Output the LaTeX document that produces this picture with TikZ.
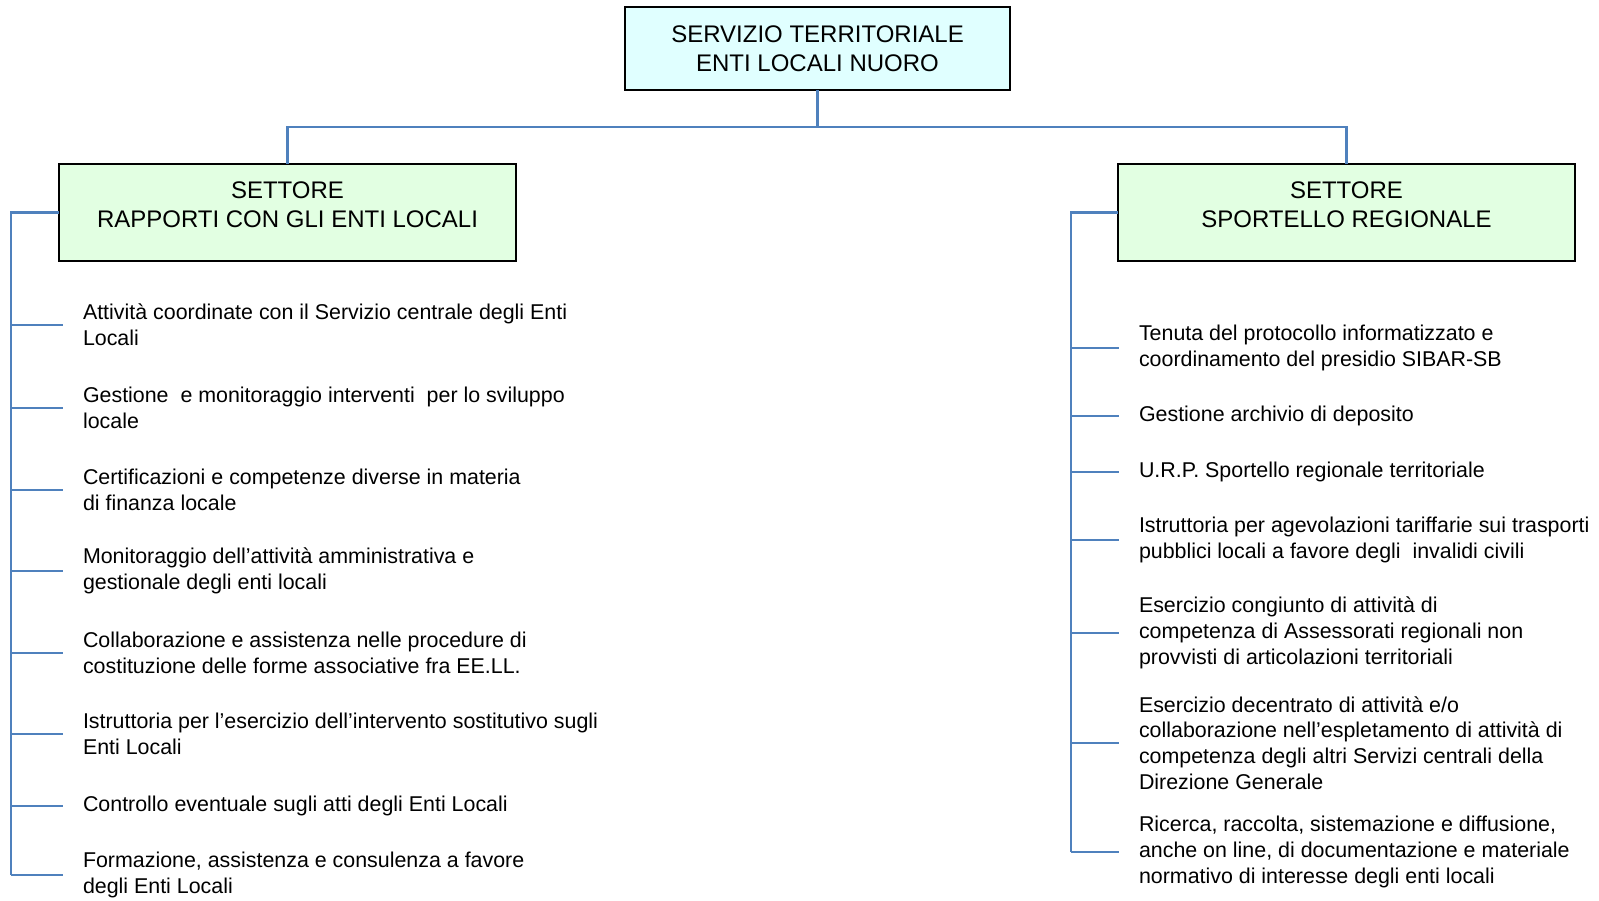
\documentclass[tikz,border=0pt]{standalone}
\usepackage{fontspec}
\setmainfont{Liberation Sans}
\definecolor{topfill}{RGB}{224,255,255}
\definecolor{setfill}{RGB}{226,255,226}
\definecolor{linkblue}{RGB}{79,129,189}
\begin{document}
\begin{tikzpicture}[x=50pt,y=50pt,inner sep=0pt,outer sep=0pt,
conn/.style={draw=linkblue,line width=1.4pt},
headbox/.style={draw,rectangle,line width=1.1pt,align=center,font=\fontsize{12}{14.25}\selectfont},
item/.style={anchor=west,align=left,inner xsep=10pt,font=\fontsize{10.7}{12.9}\selectfont}]
\useasboundingbox (0,0) rectangle (15.99,-9.00);
\draw (8.175,-0.485) node[headbox,fill=topfill,minimum width=192.5pt,minimum height=41.5pt] (serv) {SERVIZIO TERRITORIALE\\ENTI LOCALI NUORO};
\draw (2.875,-2.125) node[headbox,fill=setfill,minimum width=228.5pt,minimum height=48.5pt,
  label={[yshift=4pt,align=center,font=\fontsize{12}{14.25}\selectfont]center:SETTORE\\RAPPORTI CON GLI ENTI LOCALI}] (setL) {};
\draw (13.465,-2.125) node[headbox,fill=setfill,minimum width=228.5pt,minimum height=48.5pt,
  label={[yshift=4pt,align=center,font=\fontsize{12}{14.25}\selectfont]center:SETTORE\\SPORTELLO REGIONALE}] (setR) {};
\coordinate (bus) at (8.175,-1.27);
\draw[conn] (serv.south) -- (bus) -| (setL.north);
\draw[conn] (bus) -| (setR.north);

% settore rapporti
\coordinate (spineL) at (0.11,0);
\draw (0.63,-3.25) node[item] (itL1) {Attività coordinate con il Servizio centrale degli Enti\\Locali};
\draw (0.63,-4.08) node[item] (itL2) {Gestione\ \ e monitoraggio interventi\ \ per lo sviluppo\\locale};
\draw (0.63,-4.90) node[item] (itL3) {Certificazioni e competenze diverse in materia\\di finanza locale};
\draw (0.63,-5.71) node[item] (itL4) {Monitoraggio dell’attività amministrativa e\\gestionale degli enti locali};
\draw (0.63,-6.53) node[item] (itL5) {Collaborazione e assistenza nelle procedure di\\costituzione delle forme associative fra EE.LL.};
\draw (0.63,-7.34) node[item] (itL6) {Istruttoria per l’esercizio dell’intervento sostitutivo sugli\\Enti Locali};
\draw (0.63,-8.06) node[item] (itL7) {Controllo eventuale sugli atti degli Enti Locali};
\draw (0.63,-8.75) node[item] (itL8) {Formazione, assistenza e consulenza a favore\\degli Enti Locali};
\draw[conn] (setL.west) -| (spineL |- itL8.west);
\foreach \i in {1,...,8}
  \draw[conn] (spineL |- itL\i.west) -- (itL\i.west);

% settore sportello
\coordinate (spineR) at (10.71,0);
\draw (11.19,-3.48) node[item] (itR1) {Tenuta del protocollo informatizzato e\\coordinamento del presidio SIBAR-SB};
\draw (11.19,-4.16) node[item] (itR2) {Gestione archivio di deposito};
\draw (11.19,-4.72) node[item] (itR3) {U.R.P. Sportello regionale territoriale};
\draw (11.19,-5.40) node[item] (itR4) {Istruttoria per agevolazioni tariffarie sui trasporti\\pubblici locali a favore degli\ \ invalidi civili};
\draw (11.19,-6.33) node[item] (itR5) {Esercizio congiunto di attività di\\competenza di Assessorati regionali non\\provvisti di articolazioni territoriali};
\draw (11.19,-7.43) node[item] (itR6) {Esercizio decentrato di attività e/o\\collaborazione nell’espletamento di attività di\\competenza degli altri Servizi centrali della\\Direzione Generale};
\draw (11.19,-8.52) node[item] (itR7) {Ricerca, raccolta, sistemazione e diffusione,\\anche on line, di documentazione e materiale\\normativo di interesse degli enti locali};
\draw[conn] (setR.west) -| (spineR |- itR7.west);
\foreach \i in {1,...,7}
  \draw[conn] (spineR |- itR\i.west) -- (itR\i.west);
\end{tikzpicture}
\end{document}
